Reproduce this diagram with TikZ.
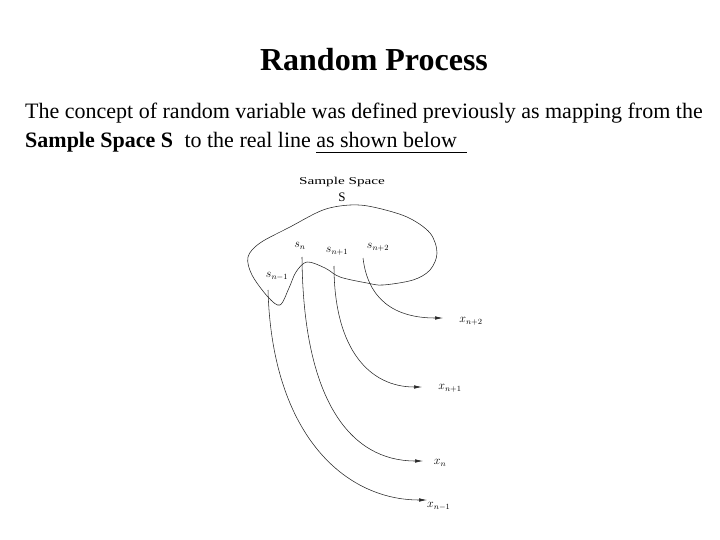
\documentclass[tikz,border=0pt]{standalone}
\usepackage{fontspec}
\setmainfont{Liberation Serif}
\usetikzlibrary{arrows.meta}
\begin{document}
\begin{tikzpicture}[x=1pt,y=-1pt,
  curve/.style={line width=0.55pt,black!85},
  maparrow/.style={curve,-{Latex[length=8pt,width=3.5pt]}},
  lbl/.style={inner sep=0pt,font=\fontsize{11.5}{12}\selectfont},
  txt/.style={inner sep=0pt,anchor=base west,font=\fontsize{22}{26}\selectfont}]
\useasboundingbox (0,0) rectangle (720,540);
% title and text
\node[inner sep=0pt,anchor=base] (title) at (374,71) {\fontsize{32}{36}\selectfont\bfseries Random Process};
\node[txt] (line1) at (25,119) {The concept of random variable was defined previously as mapping from the};
\node[txt] (l2a) at (25,148) {\bfseries Sample Space S};
\node[txt] (l2b) at ([xshift=11pt]l2a.base east) {to the real line};
\node[txt] (l2c) at ([xshift=5pt]l2b.base east) {as shown below\kern10pt};
\draw[line width=1.6pt] ([yshift=-4.5pt]l2c.base west) -- ([yshift=-4.5pt]l2c.base east);
% sample space
\node[lbl] (sslabel) at (342,182) {\scalebox{1.45}[1]{\fontsize{10.5}{11}\selectfont Sample Space}};
\node[lbl] (S) at (342,197) {\fontsize{13}{14}\selectfont S};
\draw[curve] plot[smooth cycle,tension=0.55] coordinates {
  (248,257) (260,243) (290,227) (323,210) (350,205) (373,207) (407,217) (430,233)
  (437,253) (430,270) (413,280) (383,285) (367,283) (340,277) (325,268) (307,262)
  (296,272) (289,288) (280,305) (268,297) (252,275)};
% sample points
\node[lbl] (sn) at (300,246) {$s_n$};
\node[lbl] (sn1) at (337,251) {$s_{n+1}$};
\node[lbl] (sn2) at (378,247) {$s_{n+2}$};
\node[lbl] (snm) at (277,276) {$s_{n-1}$};
% images
\node[lbl] (xn2) at (471,321) {$x_{n+2}$};
\node[lbl] (xn1) at (450,388) {$x_{n+1}$};
\node[lbl] (xn) at (440,463) {$x_n$};
\node[lbl,anchor=west] (xnm) at (427,506) {$x_{n-1}$};
\coordinate (a1) at (363,258);
\coordinate (a2) at (334,266);
\coordinate (a3) at (302,257);
\coordinate (a4) at (268,290);
\coordinate (b1) at (443,318);
\coordinate (b2) at (422,387);
\coordinate (b3) at (423,461);
\coordinate (b4) at (427,500);
\draw[maparrow] (a1) .. controls (368,300) and (395,318) .. (b1);
\draw[maparrow] (a2) .. controls (334,350) and (370,387) .. (b2);
\draw[maparrow] (a3) .. controls (303,400) and (350,461) .. (b3);
\draw[maparrow] (a4) .. controls (272,435) and (345,500) .. (b4);
\end{tikzpicture}
\end{document}
